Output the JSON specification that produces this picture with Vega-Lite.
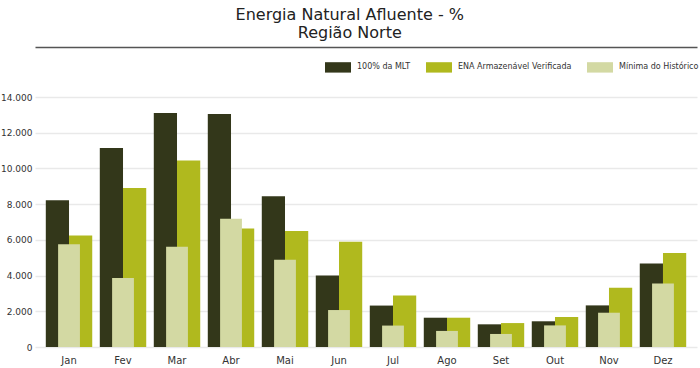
{
  "$schema": "https://vega.github.io/schema/vega-lite/v6.json",
  "autosize": "none",
  "padding": {"left": 35, "top": 97, "right": 3, "bottom": 21},
  "width": 662,
  "height": 250,
  "background": "white",
  "title": {
    "text": ["Energia Natural Afluente - %", "Região Norte"],
    "anchor": "middle",
    "frame": "bounds",
    "font": "DejaVu Sans",
    "fontSize": 16,
    "fontWeight": "normal",
    "color": "#222222",
    "lineHeight": 18,
    "offset": 6
  },
  "data": {
    "values": [
      {"m": "Jan", "s": "100% da MLT", "v": 8220}, {"m": "Jan", "s": "ENA Armazenável Verificada", "v": 6250}, {"m": "Jan", "s": "Mínima do Histórico", "v": 5750},
      {"m": "Fev", "s": "100% da MLT", "v": 11150}, {"m": "Fev", "s": "ENA Armazenável Verificada", "v": 8900}, {"m": "Fev", "s": "Mínima do Histórico", "v": 3870},
      {"m": "Mar", "s": "100% da MLT", "v": 13100}, {"m": "Mar", "s": "ENA Armazenável Verificada", "v": 10450}, {"m": "Mar", "s": "Mínima do Histórico", "v": 5610},
      {"m": "Abr", "s": "100% da MLT", "v": 13050}, {"m": "Abr", "s": "ENA Armazenável Verificada", "v": 6630}, {"m": "Abr", "s": "Mínima do Histórico", "v": 7180},
      {"m": "Mai", "s": "100% da MLT", "v": 8440}, {"m": "Mai", "s": "ENA Armazenável Verificada", "v": 6500}, {"m": "Mai", "s": "Mínima do Histórico", "v": 4890},
      {"m": "Jun", "s": "100% da MLT", "v": 4000}, {"m": "Jun", "s": "ENA Armazenável Verificada", "v": 5900}, {"m": "Jun", "s": "Mínima do Histórico", "v": 2070},
      {"m": "Jul", "s": "100% da MLT", "v": 2320}, {"m": "Jul", "s": "ENA Armazenável Verificada", "v": 2880}, {"m": "Jul", "s": "Mínima do Histórico", "v": 1200},
      {"m": "Ago", "s": "100% da MLT", "v": 1640}, {"m": "Ago", "s": "ENA Armazenável Verificada", "v": 1640}, {"m": "Ago", "s": "Mínima do Histórico", "v": 900},
      {"m": "Set", "s": "100% da MLT", "v": 1270}, {"m": "Set", "s": "ENA Armazenável Verificada", "v": 1340}, {"m": "Set", "s": "Mínima do Histórico", "v": 730},
      {"m": "Out", "s": "100% da MLT", "v": 1440}, {"m": "Out", "s": "ENA Armazenável Verificada", "v": 1680}, {"m": "Out", "s": "Mínima do Histórico", "v": 1210},
      {"m": "Nov", "s": "100% da MLT", "v": 2330}, {"m": "Nov", "s": "ENA Armazenável Verificada", "v": 3320}, {"m": "Nov", "s": "Mínima do Histórico", "v": 1920},
      {"m": "Dez", "s": "100% da MLT", "v": 4670}, {"m": "Dez", "s": "ENA Armazenável Verificada", "v": 5260}, {"m": "Dez", "s": "Mínima do Histórico", "v": 3550}
    ]
  },
  "encoding": {
    "y": {
      "field": "v",
      "type": "quantitative",
      "scale": {"domain": [0, 14000], "nice": false},
      "axis": {
        "title": null,
        "values": [0, 2000, 4000, 6000, 8000, 10000, 12000, 14000],
        "labelExpr": "replace(format(datum.value, ','), ',', '.')",
        "labelFont": "DejaVu Sans",
        "labelFontSize": 9,
        "labelColor": "#333333",
        "labelPadding": 3,
        "ticks": false,
        "domain": false,
        "grid": true,
        "gridColor": "#e9e9e9",
        "gridWidth": 1.5
      }
    },
    "color": {
      "field": "s",
      "type": "nominal",
      "scale": {
        "domain": ["100% da MLT", "ENA Armazenável Verificada", "Mínima do Histórico"],
        "range": ["#33371a", "#b0b91e", "#d3d9a3"]
      },
      "legend": {
        "title": null,
        "orient": "none",
        "legendX": 290,
        "legendY": -43,
        "direction": "horizontal",
        "symbolType": "M-1,-0.4H1V0.4H-1Z",
        "symbolSize": 676,
        "symbolStrokeWidth": 0,
        "labelFont": "DejaVu Sans",
        "labelFontSize": 8,
        "labelColor": "#333333",
        "labelOffset": 6,
        "columnPadding": 15,
        "padding": 0
      }
    }
  },
  "layer": [
    {
      "transform": [{"filter": "datum.s !== 'Mínima do Histórico'"}],
      "mark": {"type": "bar"},
      "encoding": {
        "x": {
          "field": "m",
          "type": "nominal",
          "sort": ["Jan", "Fev", "Mar", "Abr", "Mai", "Jun", "Jul", "Ago", "Set", "Out", "Nov", "Dez"],
          "scale": {"paddingInner": 0.14, "paddingOuter": 0.2},
          "axis": {
            "orient": "bottom",
            "title": null,
            "labelAngle": 0,
            "labelFont": "DejaVu Sans",
            "labelFontSize": 10,
            "labelColor": "#333333",
            "labelPadding": 8,
            "ticks": false,
            "domain": false,
            "grid": false
          }
        },
        "xOffset": {
          "field": "s",
          "type": "nominal",
          "sort": ["100% da MLT", "ENA Armazenável Verificada"],
          "scale": {"paddingInner": 0, "paddingOuter": 0}
        }
      }
    },
    {
      "transform": [{"filter": "datum.s === 'Mínima do Histórico'"}],
      "mark": {"type": "bar", "width": {"band": 0.47}},
      "encoding": {
        "x": {
          "field": "m",
          "type": "nominal",
          "sort": ["Jan", "Fev", "Mar", "Abr", "Mai", "Jun", "Jul", "Ago", "Set", "Out", "Nov", "Dez"],
          "axis": {
            "orient": "top",
            "title": null,
            "offset": 50,
            "labels": false,
            "ticks": false,
            "grid": false,
            "domain": true,
            "domainColor": "#555555",
            "domainWidth": 1.5
          }
        }
      }
    }
  ],
  "resolve": {"axis": {"x": "independent"}},
  "config": {
    "view": {"stroke": null},
    "font": "DejaVu Sans"
  }
}
